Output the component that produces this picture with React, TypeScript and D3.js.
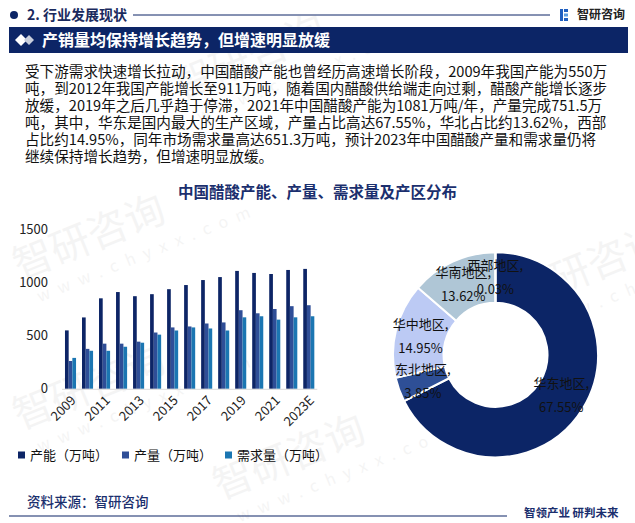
import React from 'react';
import * as d3 from 'd3';

const years = ['2009','2010','2011','2012','2013','2014','2015','2016','2017','2018','2019','2020','2021','2022','2023E'];
const capacity = [550, 672, 852, 911, 872, 891, 938, 977, 1024, 1052, 1110, 1091, 1081, 1119, 1129];
const production = [262, 376, 425, 425, 444, 530, 578, 587, 615, 625, 740, 711, 751.5, 778, 787];
const demand = [291, 358, 358, 396, 434, 510, 549, 578, 568, 549, 673, 683, 651.3, 673, 683];
const seriesNames = ['产能（万吨）', '产量（万吨）', '需求量（万吨）'];
const yTicks = [0, 500, 1000, 1500];
const xLabelYears = ['2009','2011','2013','2015','2017','2019','2021','2023E'];

const regions = ['华东地区', '东北地区', '华中地区', '华南地区', '西部地区'];
const shares = [67.55, 3.85, 14.95, 13.62, 0.03];

const paragraph = [
  '受下游需求快速增长拉动，中国醋酸产能也曾经历高速增长阶段，2009年我国产能为550万',
  '吨，到2012年我国产能增长至911万吨，随着国内醋酸供给端走向过剩，醋酸产能增长逐步',
  '放缓，2019年之后几乎趋于停滞，2021年中国醋酸产能为1081万吨/年，产量完成751.5万',
  '吨，其中，华东是国内最大的生产区域，产量占比高达67.55%，华北占比约13.62%，西部',
  '占比约14.95%，同年市场需求量高达651.3万吨，预计2023年中国醋酸产量和需求量仍将',
  '继续保持增长趋势，但增速明显放缓。',
];

const NAVY = '#0c2566';
const barColors = ['#0d2566', '#2f4e97', '#1b76b2'];
const pieColors = ['#0c2566', '#2e4f96', '#bccaf4', '#afc6d6', '#9fb3d9'];
const FONT = '"Noto Sans CJK SC", "Noto Sans", sans-serif';

export default function App() {
  const W = 635, H = 523;
  const x = d3.scaleBand<string>().domain(years).range([62, 317.3]).paddingInner(0.35).paddingOuter(0.175);
  const xi = d3.scaleBand<number>().domain([0, 1, 2]).range([0, x.bandwidth()]);
  const y = d3.scaleLinear().domain([0, 1500]).range([388.8, 229.5]);
  const series = [capacity, production, demand];

  const cx = 495.5, cy = 354.8, rOut = 102.5, rIn = 52;
  const pie = d3.pie<number>().sort(null).value(d => d).startAngle(0).endAngle(Math.PI * 2);
  const arcs = pie(shares);
  const arc = d3.arc<d3.PieArcDatum<number>>().innerRadius(rIn).outerRadius(rOut);

  const watermarks = [
    { x: 20, y: 280 },
    { x: 180, y: 100 },
    { x: 20, y: 430 },
    { x: 520, y: 310 },
    { x: 220, y: 500 },
  ];

  return (
    <svg width={W} height={H} style={{ position: 'absolute', left: 0, top: 0, background: '#fff' }} fontFamily={FONT}>
      <rect x={0} y={0} width={W} height={H} fill="#fff" />
      {/* watermarks */}
      {watermarks.map((w, i) => (
        <g key={i} transform={`translate(${w.x},${w.y}) rotate(-22)`} opacity={0.04}>
          <text x={0} y={0} fontSize={40} fill="#000">智研咨询</text>
          <text x={10} y={28} fontSize={16} fill="#000" letterSpacing={9}>www.chyxx.com</text>
        </g>
      ))}

      {/* header row */}
      <circle cx={14} cy={15} r={4} fill={NAVY} />
      <text x={27} y={15} dy="0.35em" fontSize={14} fontWeight="bold" fill="#1a2a5e">2. 行业发展现状</text>
      <line x1={133} x2={550} y1={15} y2={15} stroke={NAVY} strokeWidth={1} />
      <g>
        <rect x={560} y={9} width={3} height={12} fill="#1f5fc0" />
        <rect x={564} y={9} width={4} height={3} fill="#1f5fc0" />
        <rect x={564} y={13.5} width={4} height={3} fill="#5a9be0" />
        <rect x={564} y={18} width={4} height={3} fill="#1f5fc0" />
      </g>
      <text x={577} y={15} dy="0.35em" fontSize={12} fontWeight="bold" fill="#222">智研咨询</text>

      {/* banner */}
      <rect x={9} y={27} width={619} height={26} fill={NAVY} />
      <path d="M15,40 L21,34 L27,40 L21,46 Z" fill="#fff" />
      <path d="M24,40 L29,35 L34,40 L29,45 Z" fill="#c9cfdc" />
      <text x={42} y={40} dy="0.35em" fontSize={16} fontWeight="bold" fill="#fff">产销量均保持增长趋势，但增速明显放缓</text>

      {/* paragraph */}
      {paragraph.map((line, i) => (
        <text key={i} x={25} y={71.7 + i * 17.1} dy="0.35em" fontSize={14.6} fill="#111">{line}</text>
      ))}

      {/* chart title */}
      <text x={317.5} y={193} dy="0.35em" textAnchor="middle" fontSize={15.5} fontWeight="bold" fill="#1b2f6e">中国醋酸产能、产量、需求量及产区分布</text>

      {/* bar chart */}
      {yTicks.map(t => (
        <text key={t} x={48} y={y(t)} dy="0.35em" textAnchor="end" fontSize={13} fill="#222">{t}</text>
      ))}
      {years.map((yr, i) => (
        <g key={yr} transform={`translate(${x(yr)},0)`}>
          {series.map((s, k) => (
            <rect key={k} x={xi(k)} y={y(s[i])} width={xi.bandwidth()} height={y(0) - y(s[i])} fill={barColors[k]} />
          ))}
        </g>
      ))}
      <line x1={62} x2={317.3} y1={y(0) + 0.5} y2={y(0) + 0.5} stroke="#d9d9d9" strokeWidth={1} />
      {xLabelYears.map(yr => {
        const cxl = (x(yr) as number) + x.bandwidth() / 2 + 3;
        return (
          <text key={yr} transform={`translate(${cxl},398) rotate(-45)`} textAnchor="end" dy="0.35em" fontSize={13} fill="#222">{yr}</text>
        );
      })}

      {/* legend */}
      {seriesNames.map((n, k) => {
        const lx = [18, 122, 225][k];
        return (
          <g key={n}>
            <rect x={lx} y={451.5} width={7} height={7} fill={barColors[k]} />
            <text x={lx + 12} y={455} dy="0.35em" fontSize={13} fill="#111">{n}</text>
          </g>
        );
      })}

      {/* donut */}
      <g transform={`translate(${cx},${cy})`}>
        {arcs.map((a, i) => (
          <path key={i} d={arc(a) || ''} fill={pieColors[i]} stroke="#fff" strokeWidth={2} />
        ))}
        {arcs.map((a, i) => {
          const [lx, ly] = arc.centroid(a);
          return (
            <g key={'l' + i}>
              <text x={lx} y={ly - 12} dy="0.35em" textAnchor="middle" fontSize={13} fill="#111">{regions[i]},</text>
              <text x={lx} y={ly + 12} dy="0.35em" textAnchor="middle" fontSize={13} fill="#111">{shares[i].toFixed(2)}%</text>
            </g>
          );
        })}
      </g>

      {/* footer */}
      <text x={27} y={502.5} dy="0.35em" fontSize={13.5} fill="#1b2f6e" fontWeight="500">资料来源：智研咨询</text>
      <line x1={9} x2={507} y1={516} y2={516} stroke={NAVY} strokeWidth={1.2} />
      <text x={524} y={513} dy="0.35em" fontSize={11.5} fontWeight="bold" fill="#1b2f6e">智领产业 研判未来</text>
    </svg>
  );
}
